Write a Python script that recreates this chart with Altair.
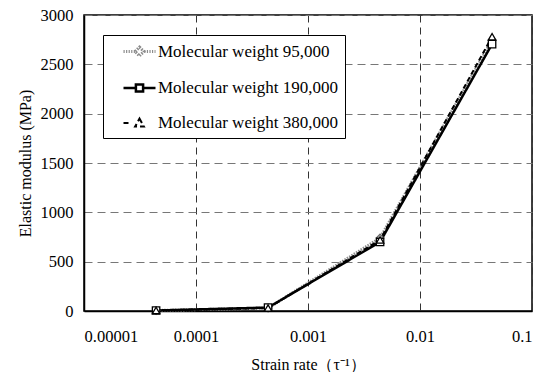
import altair as alt
import pandas as pd

strain_rate = [4.4e-5, 4.4e-4, 4.4e-3, 4.4e-2]
mw_95k = [5, 30, 740, 2745]
mw_190k = [5, 35, 700, 2705]
mw_380k = [5, 30, 720, 2780]
series_names = ["Molecular weight 95,000", "Molecular weight 190,000", "Molecular weight 380,000"]
x_ticks = [1e-5, 1e-4, 1e-3, 1e-2, 1e-1]
y_ticks = [0, 500, 1000, 1500, 2000, 2500, 3000]

rows = []
for name, vals in zip(series_names, [mw_95k, mw_190k, mw_380k]):
    for r, v in zip(strain_rate, vals):
        rows.append({"rate": r, "modulus": v, "series": name})
df = pd.DataFrame(rows)

FONT = "Liberation Serif, Times New Roman, serif"

# legend symbol paths (line sample + marker), unit = sqrt(size)/2 px
def dotted(a, b, dot=0.15, step=0.32):
    s, p = "", a
    while p < b - 1e-9:
        q = min(p + dot, b)
        s += f"M{p:.3f},0L{q:.3f},0"
        p += step
    return s

sym_95 = dotted(-2, -0.55) + dotted(0.6, 2) + "M0,-0.55L0.55,0L0,0.55L-0.55,0Z"
sym_190 = "M-2,0L-0.45,0M0.45,0L2,0M-0.45,-0.45L0.45,-0.45L0.45,0.45L-0.45,0.45Z"
sym_380 = "M-2,0L-1.35,0M0,-0.55L0.55,0.45L-0.55,0.45Z"

x = alt.X("rate:Q",
          scale=alt.Scale(type="log", domain=[1e-5, 0.1]),
          title="Strain rate（τ⁻¹）",
          axis=alt.Axis(values=x_ticks, format=".5~f", grid=True, gridDash=[7, 5],
                        gridColor="#333", gridWidth=1, ticks=False, labelPadding=17,
                        titlePadding=12, domainColor="black", domainWidth=1.5,
                        labelFont=FONT, titleFont=FONT))
y = alt.Y("modulus:Q",
          scale=alt.Scale(domain=[0, 3000], nice=False),
          title="Elastic modulus (MPa)",
          axis=alt.Axis(values=y_ticks, format="d", grid=True, gridDash=[8, 5], gridColor="#777",
                        ticks=False, labelPadding=11, titlePadding=7,
                        domainColor="black", domainWidth=1.5,
                        labelFont=FONT, titleFont=FONT))

leg = alt.Legend(title=None, orient="none", legendX=19, legendY=20,
                 fillColor="white", strokeColor="black", padding=7,
                 labelFont=FONT, labelFontSize=17, labelColor="black", labelLimit=400,
                 labelExpr="datum.label + '\u00a0\u00a0'",
                 rowPadding=16.5, symbolSize=256, symbolStrokeWidth=1.6,
                 symbolOffset=20, labelOffset=9)

color = alt.Color("series:N", scale=alt.Scale(domain=series_names, range=["#8c8c8c", "black", "black"]), legend=leg)
dash = alt.StrokeDash("series:N", scale=alt.Scale(domain=series_names, range=[[1.5, 1.2], [1, 0], [5, 3]]), legend=None)
width = alt.StrokeWidth("series:N", scale=alt.Scale(domain=series_names, range=[3, 2, 2]), legend=None)
shape = alt.Shape("series:N", scale=alt.Scale(domain=series_names, range=[sym_95, sym_190, sym_380]), legend=leg)

lines = alt.Chart(df).mark_line().encode(x=x, y=y, color=color, strokeDash=dash, strokeWidth=width)

legend_layer = alt.Chart(df).transform_filter("false").mark_point(filled=False, opacity=1).encode(
    x=x, y=y, color=color, shape=shape)

point_styles = [("diamond", "#666666"), ("square", "black"), ("triangle-up", "black")]
point_layers = []
for name, (shp, col) in zip(series_names, point_styles):
    point_layers.append(
        alt.Chart(df).transform_filter(alt.datum.series == name).mark_point(
            shape=shp, filled=True, fill="white", stroke=col, strokeWidth=1.3, size=55, opacity=1
        ).encode(x=x, y=y)
    )

chart = alt.layer(lines, *point_layers, legend_layer).properties(
    width=448, height=296,
    autosize=alt.AutoSizeParams(type="none"),
    padding={"left": 84, "top": 15, "right": 16, "bottom": 61},
    background="white",
).configure_view(stroke="black", strokeWidth=1.5).configure_axis(
    labelFont=FONT, labelFontSize=16.5, labelColor="black",
    titleFont=FONT, titleFontSize=16, titleFontWeight="normal", titleColor="black",
)

chart.save("out.html", embed_options={"renderer": "svg", "actions": False})
